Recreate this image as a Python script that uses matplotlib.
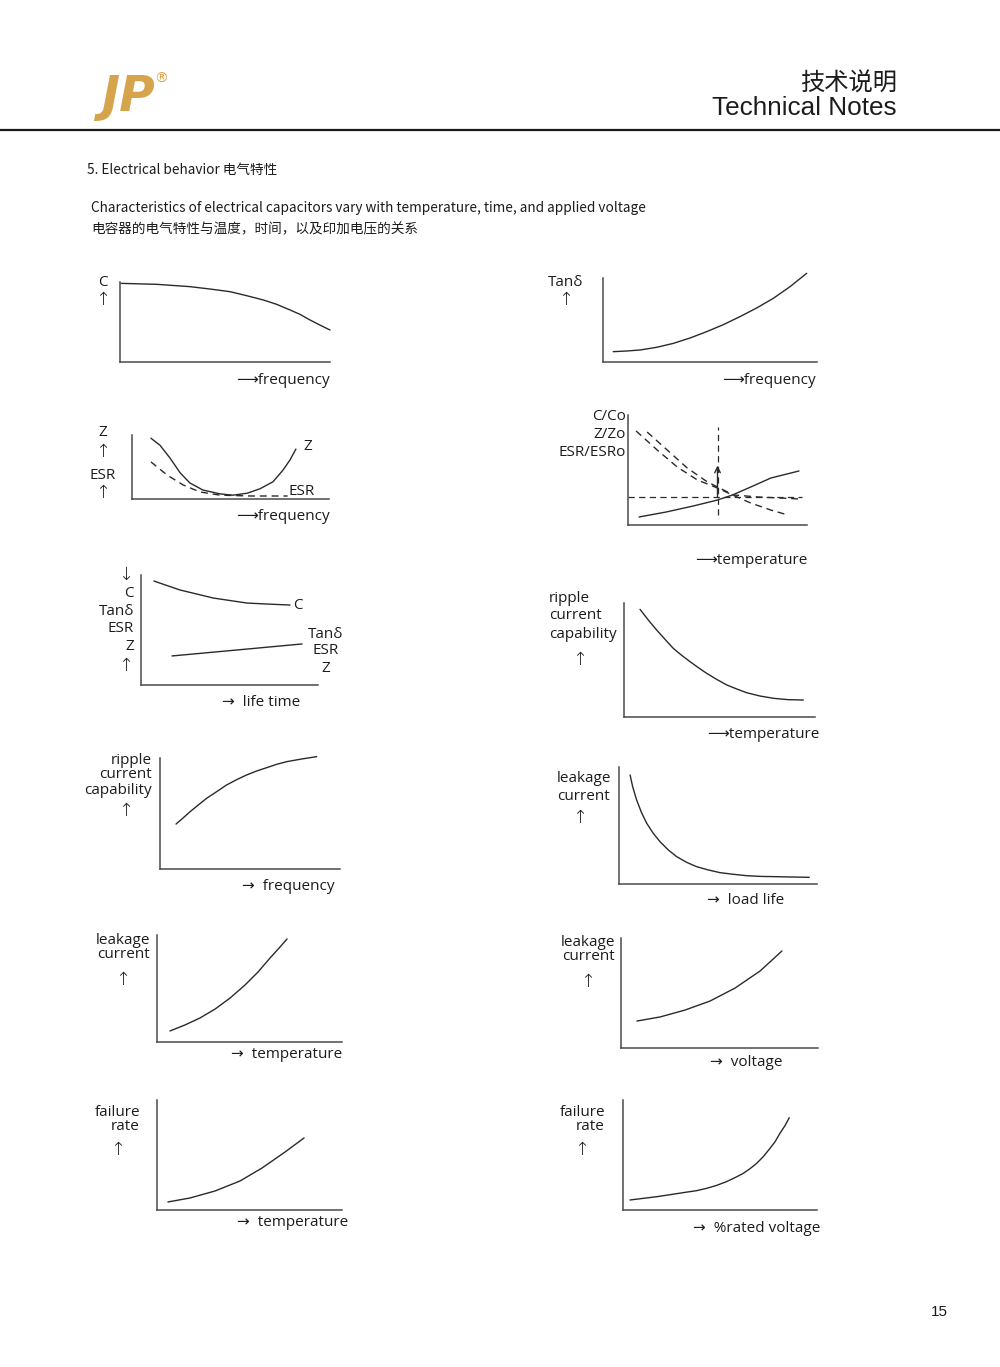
import matplotlib
matplotlib.use('Agg')
import matplotlib.pyplot as plt
from matplotlib.lines import Line2D

plt.rcParams['font.family'] = ['Open Sans', 'DejaVu Sans']

W, H = 1000, 1367
INK = '#1c1c1c'
AXC = '#4a4a4a'
CUR = '#2a2a2a'

# --- curve data (x, y as 0..100 of each little panel) ---
# C vs frequency
c_freq_x = [0.5, 17.5, 33.3, 42.9, 52.4, 60.3, 68.3, 74.6, 81, 85.7, 90.5, 95.2, 100]
c_freq_y = [98.3, 97.1, 94.2, 91.2, 87.9, 82.9, 77.5, 72.1, 65, 59.6, 52.5, 46.2, 40]
# Tan delta vs frequency
tan_freq_x = [4.8, 11.1, 17.3, 25.1, 32.9, 40.7, 48.4, 56.2, 64, 71.8, 79.6, 87.4, 95.2]
tan_freq_y = [12.3, 13.1, 14.3, 17.5, 22.2, 28.6, 36.1, 44.4, 54, 64.3, 75.8, 89.7, 105.6]
# Z / ESR vs frequency
z_freq_x = [9.6, 14.2, 19.3, 24.4, 29.4, 36, 44.7, 51.3, 58.4, 65, 71.6, 76.6, 80.2, 83.2]
z_freq_y = [95, 84, 64, 41, 25, 14, 8, 6, 9, 16, 27, 45, 61, 78]
esr_freq_x = [9.6, 17.8, 25.9, 34.5, 44.7, 60, 79]
esr_freq_y = [58, 37.5, 22, 11, 6, 4.7, 4.7]
# C/Co, Z/Zo, ESR/ESRo vs temperature
cco_temp_x = [6.2, 21.3, 36.5, 50, 58.4, 68.5, 79.8, 95.5]
cco_temp_y = [7.3, 11.8, 17.3, 22.7, 27.3, 34.5, 42.7, 49.1]
zzo_temp_x = [4.5, 16.3, 27.5, 38.8, 50, 58.4, 68.5, 79.8, 89.3]
zzo_temp_y = [85.5, 68.2, 52.7, 40.9, 33.6, 27.3, 20, 13.6, 9.1]
esro_temp_x = [10.7, 21.9, 33.1, 44.4, 53.4, 59, 72.5, 96.6]
esro_temp_y = [84.5, 68.2, 51.8, 39.1, 31.8, 27.3, 25.5, 23.6]
ref_temp = 50
ref_level = 25.5
# C and Tan delta vs life time
c_life_x = [7.3, 22, 40.7, 59.9, 71.2, 84.2]
c_life_y = [94.5, 86.4, 79.1, 74.5, 73.6, 72.7]
tan_life_x = [17.5, 54, 91]
tan_life_y = [26.4, 31.8, 37.3]
# ripple current capability vs temperature
rip_temp_x = [8.4, 12.7, 17.1, 21.5, 25.8, 30.2, 34.6, 38.9, 43.3, 48.5, 53.8, 59, 64.2,
              71.2, 78.2, 86, 93.9]
rip_temp_y = [94.4, 85.1, 76.3, 68.1, 60.2, 54.1, 48.5, 43.3, 38.3, 33, 28.1, 24.6, 21.3,
              18.4, 16.4, 15.2, 14.9]
# ripple current capability vs frequency
rip_freq_x = [8.9, 13, 16.7, 21.3, 25.9, 31.5, 37, 42.6, 48.1, 53.7, 59.3, 64.8, 70.4, 78.7, 87]
rip_freq_y = [40.5, 46.2, 51.6, 57.7, 63.7, 69.7, 75.7, 80.5, 84.7, 88.3, 91.3, 94.3, 96.7,
              99.1, 101.2]
# leakage current vs load life
lc_life_x = [5.6, 6.9, 8.9, 11.4, 14, 17.3, 20.7, 24.9, 29.1, 34.2, 39.2, 45.1, 51, 57.7,
             64.5, 71.2, 77.9, 86.4, 96.1]
lc_life_y = [93.2, 83.2, 71.8, 60.9, 51.9, 43.3, 36.2, 29.1, 23.4, 18.5, 14.8, 12, 9.7, 8.3,
             7.1, 6.5, 6.3, 6, 5.7]
# leakage current vs temperature
lc_temp_x = [7, 15.1, 23.2, 31.4, 39.5, 47.6, 54.6, 61.1, 66.5, 70.3]
lc_temp_y = [10.3, 15.9, 22.4, 30.8, 41.1, 53.3, 65.4, 78.5, 88.8, 96.3]
# leakage current vs voltage
lc_volt_x = [8.1, 19.8, 32.5, 45.2, 57.9, 70.6, 81.7]
lc_volt_y = [24.5, 28.2, 34.5, 42.7, 54.5, 70, 88.2]
# failure rate vs temperature
fr_temp_x = [5.9, 17.8, 31.4, 44.9, 56.8, 69.2, 79.5]
fr_temp_y = [7.3, 10.9, 17.3, 26.4, 38.2, 52.7, 65.5]
# failure rate vs %rated voltage
fr_volt_x = [3.6, 10.5, 17.4, 24.2, 31.1, 38, 43.1, 48.3, 53.4, 57.7, 62, 65.5, 68.9, 72.3,
             75.8, 78.4, 80.9, 83.5, 85.7]
fr_volt_y = [9.1, 10.6, 12.1, 13.9, 15.8, 17.6, 19.7, 22.4, 25.8, 29.4, 33.3, 37.6, 42.4,
             48.5, 56.1, 62.1, 69.7, 76.7, 83.9]

fig = plt.figure(figsize=(10, 13.67), dpi=100)


def fx(x):
    return x / W


def fy(y):
    return 1 - y / H


def panel(x0, x1, ytop, ybot):
    ax = fig.add_axes([fx(x0), fy(ybot), (x1 - x0) / W, (ybot - ytop) / H])
    ax.set_xlim(0, 100)
    ax.set_ylim(0, 100)
    ax.patch.set_alpha(0)
    for s in ['top', 'right']:
        ax.spines[s].set_visible(False)
    for s in ['left', 'bottom']:
        ax.spines[s].set_color(AXC)
        ax.spines[s].set_linewidth(1.1)
    ax.set_xticks([])
    ax.set_yticks([])
    return ax


def curve(ax, x, y, dashed=False):
    ln, = ax.plot(x, y, color=CUR, lw=1.0, clip_on=False, solid_capstyle='round',
                  solid_joinstyle='round')
    if dashed:
        ln.set_dashes((5, 3.5))
    return ln


def txt(x, y, s, ha='center', size=11, **kw):
    fig.text(fx(x), fy(y), s, ha=ha, va='center', fontsize=size, color=INK, **kw)


def up(x, y):
    txt(x, y, '↑', size=13, fontweight='light')


def down(x, y):
    txt(x, y, '↓', size=13, fontweight='light')


# ---------------- header ----------------
fig.text(fx(101), fy(97), 'JP', ha='left', va='center', fontsize=35, color='#d6a44c',
         family='DejaVu Sans', fontweight='bold', fontstyle='italic')
fig.text(fx(161), fy(79), '®', ha='center', va='center', fontsize=10, color='#d6a44c',
         family='DejaVu Sans')
fig.text(fx(897), fy(84), '技术说明', ha='right', va='center', fontsize=17.5, color=INK,
         family='Noto Sans CJK SC')
fig.text(fx(897), fy(108), 'Technical Notes', ha='right', va='center', fontsize=18.8,
         color=INK, family='Liberation Sans')
fig.add_artist(Line2D([0, 1], [fy(130), fy(130)], color='#1a1a1a', lw=1.6))

cjk = ['Noto Sans CJK SC', 'DejaVu Sans']
fig.text(fx(87), fy(170), '5. Electrical behavior 电气特性', ha='left', va='center',
         fontsize=9.8, color=INK, family=cjk, fontweight='medium')
fig.text(fx(91), fy(208), 'Characteristics of electrical capacitors vary with temperature, '
         'time, and applied voltage', ha='left', va='center', fontsize=9.8, color=INK,
         family=cjk, fontweight='medium')
fig.text(fx(91), fy(229), '电容器的电气特性与温度，时间，以及印加电压的关系', ha='left',
         va='center', fontsize=9.8, color=INK, family=cjk, fontweight='medium')

# ---------------- panel 1: C vs frequency ----------------
ax = panel(120, 330, 282, 362)
curve(ax, c_freq_x, c_freq_y)
txt(103, 283, 'C')
up(103, 300)
txt(330, 380, '⟶frequency', ha='right')

# ---------------- panel 2: Tan delta vs frequency ----------------
ax = panel(603, 817, 278, 362)
curve(ax, tan_freq_x, tan_freq_y)
txt(566, 283, 'Tanδ')
up(566, 300)
txt(816, 380, '⟶frequency', ha='right')

# ---------------- panel 3: Z, ESR vs frequency ----------------
ax = panel(132, 329, 435, 499)
curve(ax, z_freq_x, z_freq_y)
curve(ax, esr_freq_x, esr_freq_y, dashed=True)
txt(103, 433, 'Z')
up(103, 452)
txt(103, 475, 'ESR')
up(103, 493)
txt(308, 447, 'Z')
txt(302, 491, 'ESR')
txt(330, 517, '⟶frequency', ha='right')

# ---------------- panel 4: ratios vs temperature ----------------
ax = panel(628, 807, 415, 525)
curve(ax, cco_temp_x, cco_temp_y)
curve(ax, zzo_temp_x, zzo_temp_y, dashed=True)
curve(ax, esro_temp_x, esro_temp_y, dashed=True)
ax.hlines(ref_level, 0, 97, colors=CUR, lw=0.9, linestyles=(0, (5, 3.5)))
ax.vlines(ref_temp, 9, 89, colors=CUR, lw=0.9, linestyles=(0, (5, 3.5)))
ax.annotate('', xy=(ref_temp, 54), xytext=(ref_temp, ref_level),
            arrowprops=dict(arrowstyle='->', color=CUR, lw=1.0, shrinkA=0, shrinkB=0))
txt(626, 417, 'C/Co', ha='right')
txt(626, 434, 'Z/Zo', ha='right')
txt(626, 452, 'ESR/ESRo', ha='right')
txt(807, 560, '⟶temperature', ha='right')

# ---------------- panel 5: life time ----------------
ax = panel(141, 318, 575, 685)
curve(ax, c_life_x, c_life_y)
curve(ax, tan_life_x, tan_life_y)
down(126, 575)
txt(134, 594, 'C', ha='right')
txt(134, 611, 'Tanδ', ha='right')
txt(134, 629, 'ESR', ha='right')
txt(134, 646, 'Z', ha='right')
up(126, 666)
txt(298, 605, 'C')
txt(326, 634, 'Tanδ')
txt(326, 651, 'ESR')
txt(326, 668, 'Z')
txt(300, 703, '→  life time', ha='right')

# ---------------- panel 6: ripple vs temperature ----------------
ax = panel(624, 815, 603, 717)
curve(ax, rip_temp_x, rip_temp_y)
txt(549, 599, 'ripple', ha='left')
txt(549, 616, 'current', ha='left')
txt(549, 634, 'capability', ha='left')
up(580, 660)
txt(820, 735, '⟶temperature', ha='right')

# ---------------- panel 7: ripple vs frequency ----------------
ax = panel(160, 340, 758, 869)
curve(ax, rip_freq_x, rip_freq_y)
txt(152, 761, 'ripple', ha='right')
txt(152, 775, 'current', ha='right')
txt(152, 790, 'capability', ha='right')
up(126, 811)
txt(334, 887, '→  frequency', ha='right')

# ---------------- panel 8: leakage vs load life ----------------
ax = panel(619, 817, 767, 884)
curve(ax, lc_life_x, lc_life_y)
txt(557, 778, 'leakage', ha='left')
txt(557, 796, 'current', ha='left')
up(580, 818)
txt(784, 900, '→  load life', ha='right')

# ---------------- panel 9: leakage vs temperature ----------------
ax = panel(157, 342, 935, 1042)
curve(ax, lc_temp_x, lc_temp_y)
txt(150, 941, 'leakage', ha='right')
txt(150, 955, 'current', ha='right')
up(123, 980)
txt(342, 1055, '→  temperature', ha='right')

# ---------------- panel 10: leakage vs voltage ----------------
ax = panel(621, 818, 938, 1048)
curve(ax, lc_volt_x, lc_volt_y)
txt(615, 943, 'leakage', ha='right')
txt(615, 957, 'current', ha='right')
up(588, 982)
txt(783, 1063, '→  voltage', ha='right')

# ---------------- panel 11: failure rate vs temperature ----------------
ax = panel(157, 342, 1100, 1210)
curve(ax, fr_temp_x, fr_temp_y)
txt(140, 1112, 'failure', ha='right')
txt(140, 1127, 'rate', ha='right')
up(118, 1150)
txt(348, 1223, '→  temperature', ha='right')

# ---------------- panel 12: failure rate vs rated voltage ----------------
ax = panel(623, 817, 1100, 1210)
curve(ax, fr_volt_x, fr_volt_y)
txt(605, 1112, 'failure', ha='right')
txt(605, 1127, 'rate', ha='right')
up(582, 1150)
txt(820, 1228, '→  %rated voltage', ha='right')

fig.text(fx(939), fy(1312), '15', ha='center', va='center', fontsize=11, color=INK,
         family='Liberation Sans')

fig.savefig('out.png', dpi=100, facecolor='white')
